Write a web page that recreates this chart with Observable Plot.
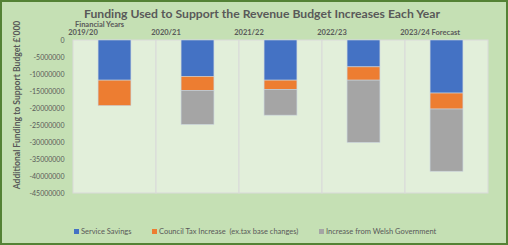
<!DOCTYPE html>
<html>
<head>
<meta charset="utf-8">
<script src="https://cdn.jsdelivr.net/npm/d3@7"></script>
<script src="https://cdn.jsdelivr.net/npm/@observablehq/plot@0.6"></script>
<style>
  html, body { margin: 0; padding: 0; }
  #wrap { position: relative; width: 508px; height: 245px; background: #c5e0b4; overflow: hidden; font-family: Lato, "Open Sans", sans-serif; color: #595959; }
  #wrap svg { position: absolute; left: 0; top: 0; }
  #border { position: absolute; left: 0; top: 0; right: 0; bottom: 0; border: 2px solid #548235; pointer-events: none; }
  #title { position: absolute; left: 0; width: 524px; top: 8.2px; line-height: 1; text-align: center; font-size: 12.2px; font-weight: bold; white-space: nowrap; }
  #xtitle { position: absolute; left: 75px; top: 20.8px; line-height: 1; font-size: 7.5px; font-weight: bold; white-space: nowrap; }
  #ytitle { position: absolute; left: 17px; top: 105px; line-height: 1; transform: translate(-50%, -50%) rotate(-90deg); font-size: 8.6px; font-weight: bold; white-space: nowrap; }
  #legend { position: absolute; left: 74px; top: 227px; font-size: 7.5px; white-space: nowrap; }
  #legend span.item { position: absolute; top: 0; }
  #legend i { display: inline-block; width: 5px; height: 5px; margin-right: 2px; vertical-align: 0px; }
</style>
</head>
<body>
<div id="wrap">
  <div id="title">Funding Used to Support the Revenue Budget Increases Each Year</div>
  <div id="xtitle">Financial Years</div>
  <div id="ytitle">Additional Funding to Support Budget £'000</div>
  <div id="legend"></div>
  <div id="border"></div>
</div>
<script>
const categories = ["2019/20", "2020/21", "2021/22", "2022/23", "2023/24 Forecast"];
const seriesNames = ["Service Savings", "Council Tax Increase  (ex.tax base changes)", "Increase from Welsh Government"];
const serviceSavings = [-11800000, -10700000, -11800000, -7900000, -15600000];
const councilTax = [-7500000, -4100000, -2700000, -3900000, -4700000];
const welshGov = [0, -10000000, -7600000, -18300000, -18300000];
const yTicks = [0, -5000000, -10000000, -15000000, -20000000, -25000000, -30000000, -35000000, -40000000, -45000000];
const colors = ["#4472c4", "#ed7d31", "#a5a5a5"];

const seriesValues = [serviceSavings, councilTax, welshGov];
const data = [];
seriesNames.forEach((s, i) => categories.forEach((c, j) => data.push({ year: c, series: s, value: seriesValues[i][j] })));

const bandW = (508 - 71 - 19) / categories.length;

const chart = Plot.plot({
  width: 508,
  height: 245,
  marginTop: 40,
  marginBottom: 52,
  marginLeft: 71,
  marginRight: 19,
  style: { background: "transparent", fontFamily: "Lato, 'Open Sans', sans-serif", color: "#595959" },
  x: { domain: categories, padding: 0, axis: null },
  y: { domain: [-45000000, 0] },
  color: { domain: seriesNames, range: colors },
  marks: [
    Plot.barY(categories, { x: d => d, y1: 0, y2: -45000000, fill: "#e2efda", stroke: "#d9d9d9", strokeWidth: 1 }),
    Plot.barY(data, Plot.stackY({ order: null }, { x: "year", y: "value", fill: "series", z: "series", insetLeft: bandW * 0.3, insetRight: bandW * 0.3, stroke: "#c9d3dd", strokeWidth: 0.6 })),
    Plot.axisY({ ticks: yTicks, tickFormat: d => String(d), tickSize: 0, tickPadding: 7, fontSize: 7, fill: "#595959", label: null }),
    Plot.text(categories, { x: d => d, y: 0, text: d => d, dx: -bandW / 2 - 5, dy: -8, textAnchor: "start", fontSize: 7.5, fontWeight: "bold", fill: "#595959" })
  ]
});
document.getElementById("wrap").insertBefore(chart, document.getElementById("title"));

const legend = document.getElementById("legend");
const offsets = [0, 78, 245];
seriesNames.forEach((s, i) => {
  const el = document.createElement("span");
  el.className = "item";
  el.style.left = offsets[i] + "px";
  el.innerHTML = `<i style="background:${colors[i]}"></i>` + s.replace(/  /g, " &nbsp;");
  legend.appendChild(el);
});
</script>
</body>
</html>
